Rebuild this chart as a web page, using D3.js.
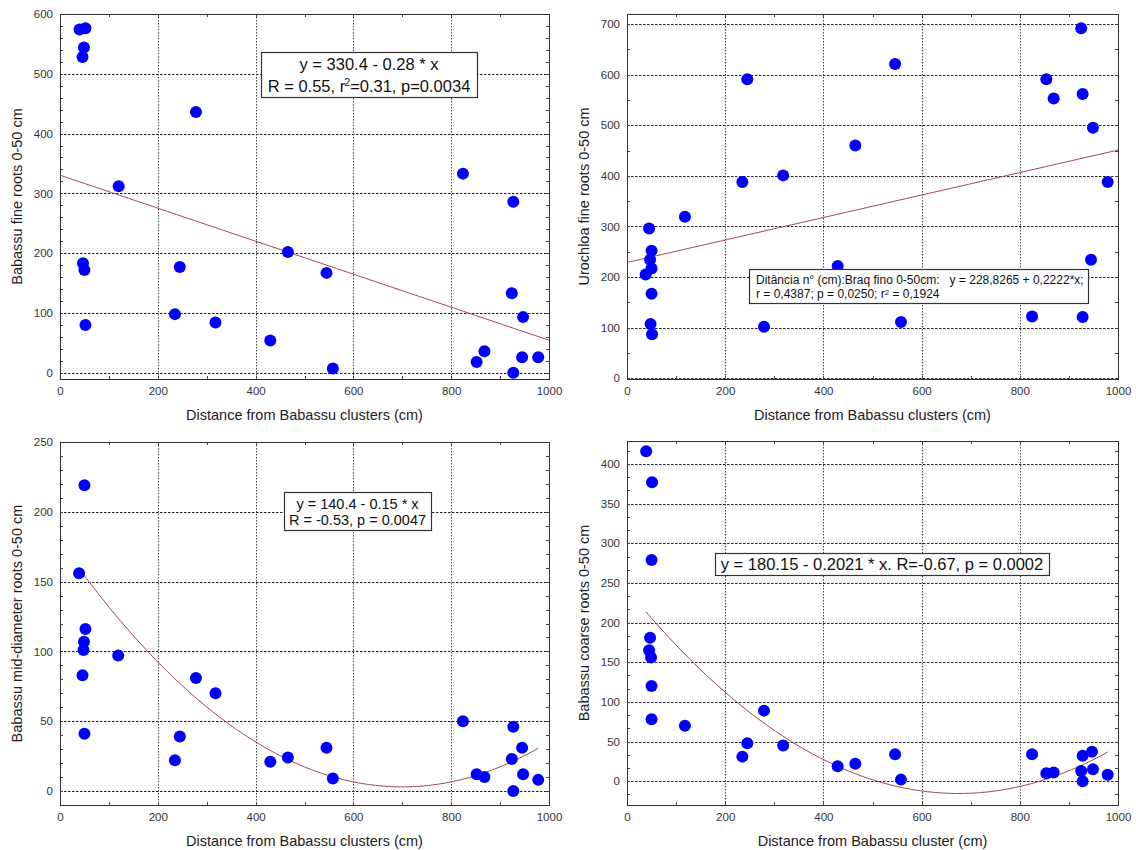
<!DOCTYPE html>
<html><head><meta charset="utf-8">
<script src="https://cdn.jsdelivr.net/npm/d3@7"></script>
<style>
body{margin:0;background:#fff}
svg{display:block}
text{font-family:"Liberation Sans",Arial,sans-serif}
</style>
</head><body>
<svg id="chart" width="1136" height="850"></svg>
<script>
// ---------- data ----------
const xTicks = [0, 200, 400, 600, 800, 1000];

const p1X = [40, 52, 49, 46, 278, 120, 47, 50, 52, 245, 235, 318, 466, 545, 430, 558, 824, 927, 924, 947, 852, 868, 945, 978, 927];
const p1Y = [574, 576, 544, 528, 436, 312, 183, 172, 80, 177, 98, 84, 202, 167, 54, 7, 333, 286, 133, 93, 18, 36, 26, 26, 0];
const p1YTicks = [0, 100, 200, 300, 400, 500, 600];
const p1Fit = [330.4, -0.276];

const p2X = [925, 546, 245, 854, 869, 928, 949, 465, 318, 235, 979, 118, 45, 50, 47, 50, 38, 50, 48, 51, 279, 429, 558, 825, 928, 945];
const p2Y = [692, 621, 591, 591, 553, 562, 495, 460, 401, 388, 388, 319, 296, 252, 234, 217, 205, 167, 107, 87, 102, 222, 111, 122, 121, 234];
const p2YTicks = [0, 100, 200, 300, 400, 500, 600, 700];
const p2Fit = [228.8265, 0.2222];

const p3X = [50, 39, 52, 49, 48, 46, 50, 119, 278, 318, 245, 235, 430, 466, 545, 558, 824, 927, 945, 924, 852, 868, 947, 978, 927];
const p3Y = [219, 156, 116, 107, 101, 83, 41, 97, 81, 70, 39, 22, 21, 24, 31, 9, 50, 46, 31, 23, 12, 10, 12, 8, 0];
const p3YTicks = [0, 50, 100, 150, 200, 250];
const p3Fit = [178.4, -0.5012, 0.000358];

const p4X = [39, 51, 50, 47, 45, 49, 50, 50, 118, 279, 245, 235, 318, 429, 465, 546, 558, 825, 854, 869, 928, 947, 925, 949, 928, 979];
const p4Y = [416, 377, 279, 181, 165, 156, 120, 78, 70, 89, 48, 31, 45, 19, 22, 34, 2, 34, 10, 11, 32, 37, 13, 15, 0, 8];
const p4YTicks = [0, 50, 100, 150, 200, 250, 300, 350, 400];
const p4Fit = [242.4, -0.7641, 0.000566];

// ---------- drawing ----------
const svg = d3.select("#chart");
svg.append("rect").attr("width",1136).attr("height",850).attr("fill","#fff");

function polyVal(c, v){ let s=0; for(let i=c.length-1;i>=0;i--) s=s*v+c[i]; return s; }

function drawPanel(p){
  const g = svg.append("g");
  const x = d3.scaleLinear().domain([0,1000]).range([p.left,p.right]);
  const y = d3.scaleLinear().domain(p.yDomain).range([p.bottom,p.top]);

  // horizontal grid
  g.selectAll(".hg").data(p.yTicks).join("line")
    .attr("x1",p.left).attr("x2",p.right)
    .attr("y1",d=>Math.round(y(d))+0.5).attr("y2",d=>Math.round(y(d))+0.5)
    .attr("stroke","#222").attr("stroke-width",1).attr("stroke-dasharray","2.5,1.5");
  // vertical grid
  g.selectAll(".vg").data(xTicks.filter(d=>d>0&&d<1000)).join("line")
    .attr("x1",d=>Math.round(x(d))+0.5).attr("x2",d=>Math.round(x(d))+0.5)
    .attr("y1",p.top).attr("y2",p.bottom)
    .attr("stroke","#444").attr("stroke-width",1).attr("stroke-dasharray","1.5,1.5");

  // minor ticks (inside, all four sides)
  const xm = d3.range(0,1001,100);
  const [ymin,ymax] = p.yDomain;
  const ym = d3.range(Math.ceil(ymin/p.yMinor-1e-6), Math.floor(ymax/p.yMinor+1e-6)+1).map(k=>k*p.yMinor);
  const tk = g.append("g").attr("stroke","#444").attr("stroke-width",1);
  xm.forEach(v=>{
    const xx=Math.round(x(v))+0.5;
    tk.append("line").attr("x1",xx).attr("x2",xx).attr("y1",p.bottom).attr("y2",p.bottom-3);
    tk.append("line").attr("x1",xx).attr("x2",xx).attr("y1",p.top).attr("y2",p.top+3);
  });
  ym.forEach(v=>{
    const yy=Math.round(y(v))+0.5;
    tk.append("line").attr("x1",p.left).attr("x2",p.left+3).attr("y1",yy).attr("y2",yy);
    tk.append("line").attr("x1",p.right).attr("x2",p.right-3).attr("y1",yy).attr("y2",yy);
  });

  // frame
  g.append("rect").attr("x",p.left+0.5).attr("y",p.top+0.5)
    .attr("width",p.right-p.left).attr("height",p.bottom-p.top)
    .attr("fill","none").attr("stroke","#333").attr("stroke-width",1);

  // axes labels
  const ax = g.append("g").attr("transform",`translate(0,${p.bottom})`)
    .call(d3.axisBottom(x).tickValues(xTicks).tickSize(0).tickPadding(8).tickFormat(d3.format("d")));
  const ay = g.append("g").attr("transform",`translate(${p.left},0)`)
    .call(d3.axisLeft(y).tickValues(p.yTicks).tickSize(0).tickPadding(7).tickFormat(d3.format("d")));
  [ax,ay].forEach(a=>{
    a.select(".domain").remove();
    a.selectAll("text").attr("font-size","11.5px").attr("fill","#333")
      .attr("font-family",'"Liberation Sans",Arial,sans-serif');
  });

  // fit curve
  const clip = "clip"+p.id;
  svg.append("clipPath").attr("id",clip).append("rect")
    .attr("x",p.left).attr("y",p.top).attr("width",p.right-p.left).attr("height",p.bottom-p.top);
  const fx = d3.range(0,201).map(i=>p.fitRange[0]+(p.fitRange[1]-p.fitRange[0])*i/200);
  g.append("path").datum(fx)
    .attr("clip-path",`url(#${clip})`)
    .attr("d",d3.line().x(v=>x(v)).y(v=>y(polyVal(p.fit,v))))
    .attr("fill","none").attr("stroke","#a0404f").attr("stroke-width",1);

  // points
  g.selectAll(".pt").data(p.xs.map((v,i)=>[v,p.ys[i]])).join("circle")
    .attr("cx",d=>x(d[0])).attr("cy",d=>y(d[1])).attr("r",6)
    .attr("fill","#0000ff");

  // axis titles
  g.append("text").attr("x",(p.left+p.right)/2).attr("y",p.bottom+41)
    .attr("text-anchor","middle").attr("font-size","14.5px").attr("fill","#222")
    .text(p.xTitle);
  g.append("text").attr("transform",`translate(${p.left-38},${(p.top+p.bottom)/2}) rotate(-90)`)
    .attr("text-anchor","middle").attr("font-size","14.5px").attr("fill","#222")
    .text(p.yTitle);

  // annotation box
  const b = p.box;
  g.append("rect").attr("x",p.left+b.dx+0.5).attr("y",p.top+b.dy+0.5).attr("width",b.w).attr("height",b.h)
    .attr("fill","#fff").attr("stroke","#333").attr("stroke-width",1.2);
  b.lines.forEach((ln,i)=>{
    const t = g.append("text")
      .attr("x", b.align==="start" ? p.left+b.dx+7 : p.left+b.dx+b.w/2)
      .attr("y", p.top+b.dy+b.base[i])
      .attr("text-anchor", b.align==="start" ? "start" : "middle")
      .attr("font-size", b.fs+"px").attr("fill","#111")
      .style("white-space","pre");
    ln.forEach(seg=>{
      const ts = t.append("tspan").text(seg.t);
      const sh = seg.shift!=null ? seg.shift : b.fs*0.38;
      if(seg.sup){ ts.attr("font-size",(b.fs*0.65)+"px").attr("dy",-sh).attr("dx",seg.dx||0); }
      if(seg.down){ ts.attr("dy",sh); }
    });
  });
}

drawPanel({id:1,left:60,right:549,top:14,bottom:379,yDomain:[-10.5,600],yTicks:p1YTicks,yMinor:20,
  xs:p1X,ys:p1Y,fit:p1Fit,fitRange:[0,1000],
  xTitle:"Distance from Babassu clusters (cm)",yTitle:"Babassu fine roots 0-50 cm",
  box:{dx:201,dy:38,w:216,h:45,fs:16.5,align:"middle",base:[18,40],
    lines:[[{t:"y = 330.4 - 0.28 * x"}],
           [{t:"R = 0.55, r"},{t:"2",sup:true,dx:-1},{t:"=0.31, p=0.0034",down:true}]]}});

drawPanel({id:2,left:627,right:1118,top:14,bottom:379,yDomain:[-1.5,720],yTicks:p2YTicks,yMinor:50,
  xs:p2X,ys:p2Y,fit:p2Fit,fitRange:[0,1000],
  xTitle:"Distance from Babassu clusters (cm)",yTitle:"Urochloa fine roots 0-50 cm",
  box:{dx:122,dy:255,w:339,h:34,fs:12,align:"start",base:[14.5,28.5],
    lines:[[{t:"Ditância n° (cm):Braq fino 0-50cm:   y = 228,8265 + 0,2222*x;"}],
           [{t:"r = 0,4387; p = 0,0250; r"},{t:"2",sup:true,dx:0,shift:3},{t:" = 0,1924",down:true,shift:3}]]}});

drawPanel({id:3,left:60,right:549,top:442,bottom:805,yDomain:[-10,250],yTicks:p3YTicks,yMinor:10,
  xs:p3X,ys:p3Y,fit:p3Fit,fitRange:[40,978],
  xTitle:"Distance from Babassu clusters (cm)",yTitle:"Babassu mid-diameter roots 0-50 cm",
  box:{dx:224,dy:50,w:147,h:38,fs:14.5,align:"middle",base:[16.5,33],
    lines:[[{t:"y = 140.4 - 0.15 * x"}],[{t:"R = -0.53, p = 0.0047"}]]}});

drawPanel({id:4,left:627,right:1118,top:441,bottom:805,yDomain:[-30,429],yTicks:p4YTicks,yMinor:50/3,
  xs:p4X,ys:p4Y,fit:p4Fit,fitRange:[39,979],
  xTitle:"Distance from Babassu cluster (cm)",yTitle:"Babassu coarse roots 0-50 cm",
  box:{dx:88,dy:112,w:334,h:22,fs:16.5,align:"middle",base:[17],
    lines:[[{t:"y = 180.15 - 0.2021 * x. R=-0.67, p = 0.0002"}]]}});
</script>
</body></html>
